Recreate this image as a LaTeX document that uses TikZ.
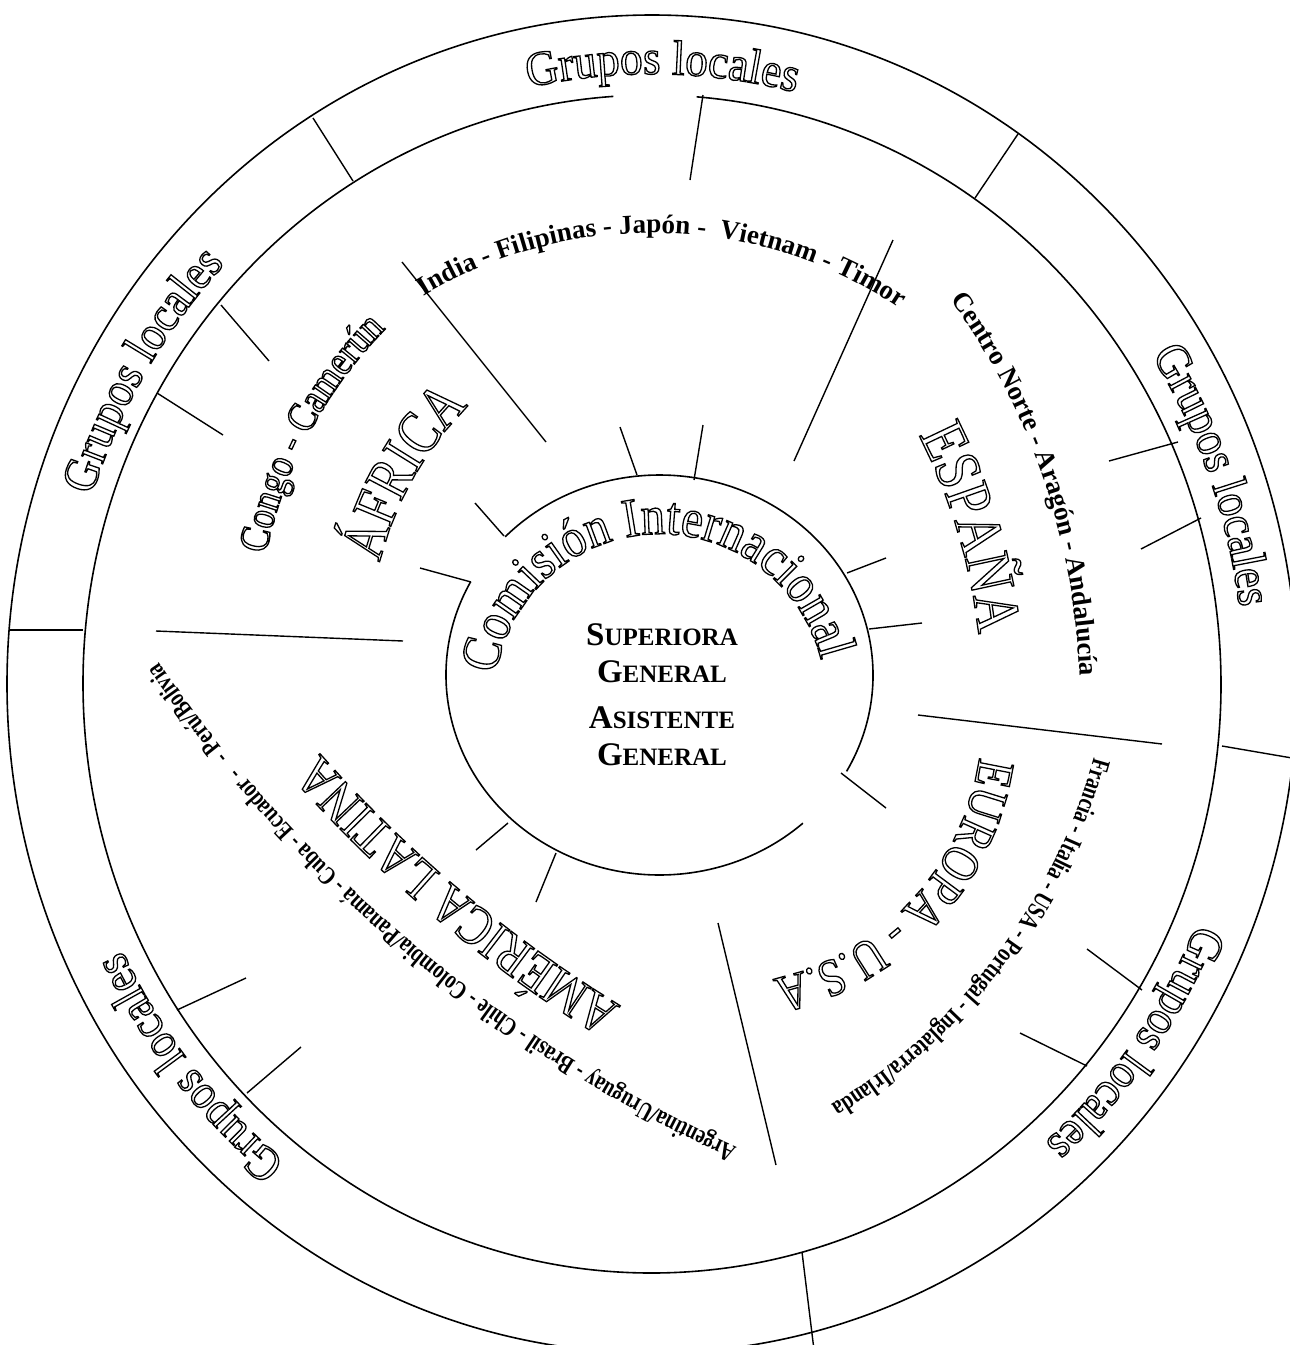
\documentclass[tikz,border=0pt]{standalone}
\usepackage{fontspec}
\setmainfont{Liberation Serif}
\usetikzlibrary{decorations.text}

% hollow letters: glyph outlines are stroked, not filled
\newcommand{\hollow}{\special{pdf:code 1 Tr 1.3 w}}
\newcommand{\outl}[2]{\fontsize{#1}{#1}\selectfont\addfontfeature{FakeStretch=#2}\hollow}
\newcommand{\plainbold}{\fontsize{27}{27}\selectfont\bfseries}
\newcommand{\tightbold}{\fontsize{26}{26}\selectfont\bfseries\addfontfeature{FakeStretch=0.76}}
\newcommand{\sm}[1]{{\fontsize{25}{25}\selectfont #1}}

\tikzset{
  ring/.style={line width=1.6pt},
  tick/.style={line width=1.4pt},
  boss/.style={font=\fontsize{33}{33}\selectfont\bfseries, anchor=base, inner sep=0pt},
}

\begin{document}
\begin{tikzpicture}[x=1pt, y=1pt]
  \useasboundingbox (0,0) rectangle (1290,-1345);

  % rings
  \draw [ring] (652,-684) ellipse [x radius=645, y radius=669];
  \draw [ring] (652,-684) ++(93.9:569 and 589) arc [start angle=93.9, end angle=445.5, x radius=569, y radius=589];
  \draw [ring] (659.5,-675) ++(152.2:213.5 and 200) arc [start angle=152.2, end angle=312.2, x radius=213.5, y radius=200];
  \draw [ring] (659.5,-675) ++(331.2:213.5 and 200) arc [start angle=331.2, end angle=496.3, x radius=213.5, y radius=200];

  % dividers of the outer ring
  \draw [tick] (313,-118) -- (353,-181);
  \draw [tick] (1018,-134) -- (975,-198);
  \draw [tick] (1222,-746) -- (1292,-758);
  \draw [tick] (802,-1252) -- (814,-1350);
  \draw [tick] (10,-630) -- (83,-630);

  % ticks on the inner ring
  \draw [tick] (703,-95) -- (690,-180);
  \draw [tick] (1178,-442) -- (1109,-461);
  \draw [tick] (1201,-518) -- (1141,-549);
  \draw [tick] (1142,-990) -- (1087,-949);
  \draw [tick] (1087,-1066) -- (1020,-1033);
  \draw [tick] (177,-1010) -- (246,-978);
  \draw [tick] (247,-1093) -- (301,-1047);
  \draw [tick] (157,-393) -- (223,-435);
  \draw [tick] (221,-305) -- (269,-361);

  % long dividers
  \draw [tick] (402,-262) -- (546,-442);
  \draw [tick] (893,-240) -- (794,-461);
  \draw [tick] (156,-631) -- (403,-641);
  \draw [tick] (918,-715) -- (1162,-744);
  \draw [tick] (718,-923) -- (776,-1165);

  % ticks on the centre
  \draw [tick] (620,-427) -- (637,-475);
  \draw [tick] (703,-425) -- (694,-480);
  \draw [tick] (475,-503) -- (504,-536);
  \draw [tick] (420,-568) -- (471,-582);
  \draw [tick] (886,-558) -- (847,-573);
  \draw [tick] (922,-623) -- (869,-629);
  \draw [tick] (841,-773) -- (886,-808);
  \draw [tick] (476,-850) -- (508,-823);
  \draw [tick] (536,-902) -- (556,-853);

  % Grupos locales
  \path [decorate, decoration={text along path, text align=center, text={|\outl{49}{0.92}|Grupos locales}}]
    (652,-684) ++(124:589 and 610) arc [start angle=124, end angle=54, x radius=589, y radius=610];
  \path [decorate, decoration={text along path, text align=center, text={|\outl{49}{0.92}|Grupos locales}}]
    (652,-684) ++(184:589 and 610) arc [start angle=184, end angle=114, x radius=589, y radius=610];
  \path [decorate, decoration={text along path, text align=center, text={|\outl{49}{0.92}|Grupos locales}}]
    (652,-684) ++(55:592 and 613) arc [start angle=55, end angle=-15, x radius=592, y radius=613];
  \path [decorate, decoration={text along path, text align=center, text={|\outl{49}{0.92}|Grupos locales}}]
    (652,-684) ++(-1:592 and 613) arc [start angle=-1, end angle=-71, x radius=592, y radius=613];
  \path [decorate, decoration={text along path, text align=center, text={|\outl{49}{0.92}|Grupos locales}}]
    (652,-684) ++(-106:589 and 610) arc [start angle=-106, end angle=-176, x radius=589, y radius=610];

  % countries
  \path [decorate, decoration={text along path, text align=center, text={|\plainbold|India - Filipinas - Japón - {~}Vietnam - Timor}}]
    (652,-684) ++(133.6:447 and 451) arc [start angle=133.6, end angle=43.6, x radius=447, y radius=451];
  \path [decorate, decoration={text along path, text align=center, text={|\plainbold|Centro Norte - Aragón - Andalucía}}]
    (404,-698) ++(49:676) arc [start angle=49, end angle=-11, radius=676];
  \path [decorate, decoration={text along path, text align=center, text={|\tightbold|Francia - Italia - USA - Portugal - Inglaterra/Irlanda}}]
    (525,-601) ++(-2:590) arc [start angle=-2, end angle=-72, radius=590];
  \path [decorate, decoration={text along path, text align=center, text={|\tightbold|Argentina/Uruguay - Brasil - Chile - Colombia/Panamá - Cuba - Ecuador - {~~}- Perú/Bolivia}}]
    (1310,121) ++(-105:1392) arc [start angle=-105, end angle=-155, radius=1392];
  \path [decorate, decoration={text along path, text align=center, text={|\outl{42}{0.86}|Congo - Camerún}}]
    (705,-643) ++(182:448) arc [start angle=182, end angle=122, radius=448];

  % regions
  \path [decorate, decoration={text along path, text align=center, text={|\outl{62}{0.8}|ÁFRICA}}]
    (705,-643) ++(180.5:335) arc [start angle=180.5, end angle=120.5, radius=335];
  \path [decorate, decoration={text along path, text align=center, text={|\outl{64}{0.84}|ESPAÑA}}]
    (404,-698) ++(36.7:578) arc [start angle=36.7, end angle=-3.3, radius=578];
  \path [decorate, decoration={text along path, text align=center, text={|\outl{53}{0.83}|EUROPA - U.S.A}}]
    (717,-720) ++(12:265) arc [start angle=12, end angle=-98, radius=265];
  \path [decorate, decoration={text along path, text align=center, text={|\outl{56}{0.82}|AMÉRICA LATINA}}]
    (1310,121) ++(-113:1321) arc [start angle=-113, end angle=-147, radius=1321];

  % centre
  \path [decorate, decoration={text along path, text align=center, text={|\outl{55}{0.88}|Comisión Internacional}}]
    (660,-700) ++(202:166) arc [start angle=202, end angle=-17, radius=166];
  \node (sup) [boss] at (662,-645) {S\sm{UPERIORA}};
  \node (gen1) [boss] at (662,-682) {G\sm{ENERAL}};
  \node (asi) [boss] at (662,-728) {A\sm{SISTENTE}};
  \node (gen2) [boss] at (662,-765) {G\sm{ENERAL}};
\end{tikzpicture}
\end{document}
